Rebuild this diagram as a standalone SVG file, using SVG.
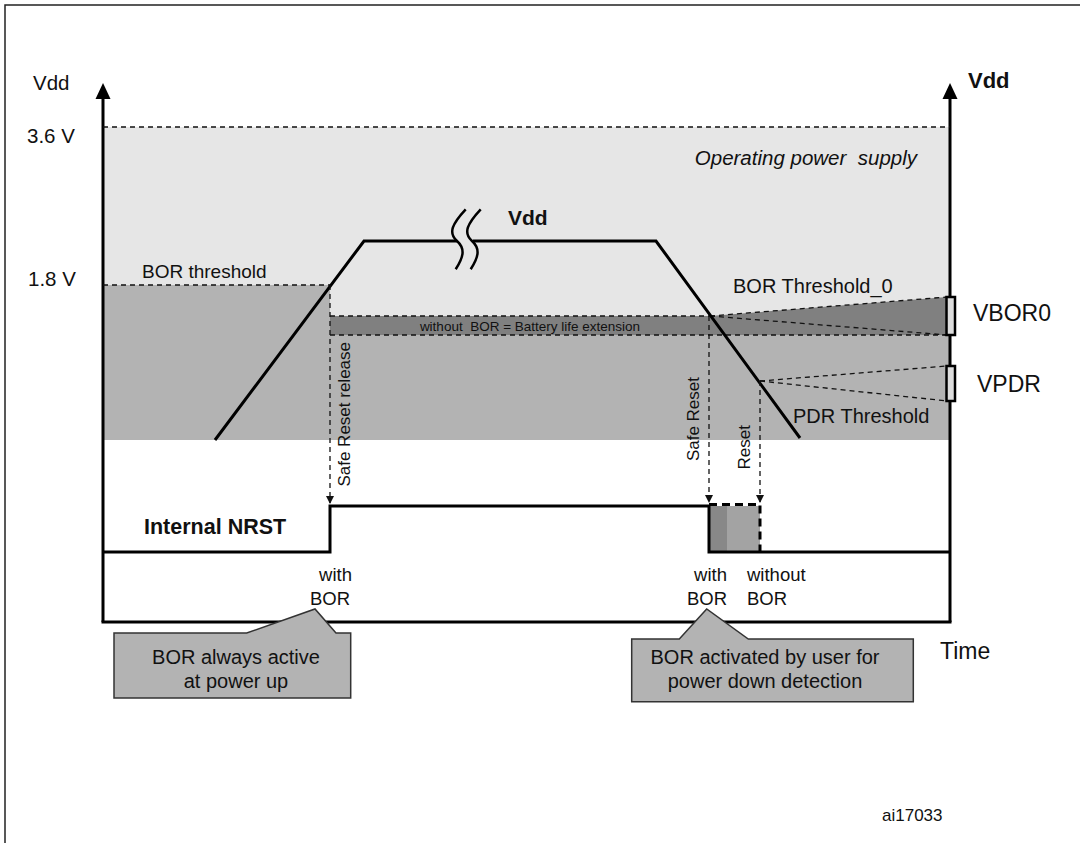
<svg xmlns="http://www.w3.org/2000/svg" width="1080" height="843" viewBox="0 0 1080 843">
<defs>
<style>
text{font-family:"Liberation Sans",Arial,sans-serif;fill:#111}
.dash{fill:none;stroke:#111;stroke-width:1.3;stroke-dasharray:5,4}
.thick{fill:none;stroke:#000;stroke-width:3;stroke-linejoin:miter}
.callout{fill:#b3b3b3;stroke:#333;stroke-width:1.5}
</style>
<marker id="ah" markerWidth="8" markerHeight="10" refX="7" refY="4" orient="auto" markerUnits="userSpaceOnUse" viewBox="0 0 8 8">
<path d="M0,0 L8,4 L0,8 Z" fill="#111"/>
</marker>
</defs>
<rect width="1080" height="843" fill="#fff"/>
<path d="M5,843 V5 H1080" fill="none" stroke="#222" stroke-width="1.5"/>

<g id="regions">
<rect x="103" y="127" width="847" height="313" fill="#e6e6e6"/>
<polygon points="103,285 330,285 330,335 950,335 950,440 103,440" fill="#b3b3b3"/>
<polygon points="330,316 710,316 947,297 947,335 330,335" fill="#808080"/>
</g>

<g id="axes">
<line x1="103" y1="97" x2="103" y2="622" stroke="#000" stroke-width="3"/>
<polygon points="103,83 95.5,99 110.5,99" fill="#000"/>
<line x1="950" y1="97" x2="950" y2="622" stroke="#000" stroke-width="3"/>
<polygon points="950,83 942.5,99 957.5,99" fill="#000"/>
<line x1="101.5" y1="622" x2="951.5" y2="622" stroke="#000" stroke-width="3"/>
<text x="33" y="90" font-size="20.5">Vdd</text>
<text x="968" y="88" font-size="22" font-weight="bold">Vdd</text>
<text x="27" y="143" font-size="20.5">3.6 V</text>
<text x="28" y="286" font-size="20.5">1.8 V</text>
<text x="940" y="659" font-size="23">Time</text>
</g>

<g id="thresholds">
<line class="dash" x1="103" y1="127" x2="950" y2="127"/>
<line class="dash" x1="103" y1="285" x2="330" y2="285"/>
<line class="dash" x1="330" y1="316" x2="710" y2="316"/>
<line class="dash" x1="330" y1="335" x2="947" y2="335"/>
<line class="dash" x1="710" y1="316" x2="947" y2="297"/>
<line class="dash" x1="710" y1="316" x2="947" y2="335"/>
<line class="dash" x1="760" y1="381" x2="947" y2="366"/>
<line class="dash" x1="760" y1="381" x2="947" y2="401"/>
<text x="142" y="278" font-size="19">BOR threshold</text>
<text x="733" y="293" font-size="20">BOR Threshold_0</text>
<text x="793" y="423" font-size="20">PDR Threshold</text>
<text x="530" y="331" font-size="13.5" text-anchor="middle">without&#160; BOR = Battery life extension</text>
<text x="917" y="165" font-size="20.5" font-style="italic" text-anchor="end">Operating power&#160; supply</text>
</g>

<g id="vbor0">
<rect x="946.5" y="297" width="8.5" height="38" fill="#ddd" stroke="#000" stroke-width="2.5"/>
<text x="973" y="321" font-size="23">VBOR0</text>
</g>
<g id="vpdr">
<rect x="946.5" y="366" width="8.5" height="35" fill="#ddd" stroke="#000" stroke-width="2.5"/>
<text x="977" y="392" font-size="23">VPDR</text>
</g>

<g id="vdd-curve">
<path class="thick" d="M215,440 L364,241 H457"/>
<path class="thick" d="M473,241 H656 L800,438"/>
<path d="M465.7,209.3 C452,224 448,233 457,241 C466,249 463,258 455.7,269.3" fill="none" stroke="#000" stroke-width="2.5"/>
<path d="M480.7,209.3 C467,224 463,233 472,241 C481,249 478,258 470.7,269.3" fill="none" stroke="#000" stroke-width="2.5"/>
<text x="508" y="225" font-size="21" font-weight="bold">Vdd</text>
</g>

<g id="nrst">
<rect x="709" y="506" width="18" height="46" fill="#888"/>
<rect x="727" y="506" width="33" height="46" fill="#a3a3a3"/>
<path class="thick" d="M103,552 H330 V506 H709 V552 H950"/>
<path d="M709,504.5 H760 V552" fill="none" stroke="#000" stroke-width="3" stroke-dasharray="8,5"/>
<text x="144" y="534" font-size="21.5" font-weight="bold">Internal NRST</text>
<text x="352" y="581" font-size="18.5" text-anchor="end">with</text>
<text x="350" y="605" font-size="18.5" text-anchor="end">BOR</text>
<text x="727" y="581" font-size="18.5" text-anchor="end">with</text>
<text x="727" y="605" font-size="18.5" text-anchor="end">BOR</text>
<text x="747" y="581" font-size="18.5">without</text>
<text x="747" y="605" font-size="18.5">BOR</text>
</g>

<g id="connectors">
<line class="dash" x1="330" y1="285" x2="330" y2="503" marker-end="url(#ah)"/>
<line class="dash" x1="709" y1="316" x2="709" y2="502" marker-end="url(#ah)"/>
<line class="dash" x1="760" y1="381" x2="760" y2="502" marker-end="url(#ah)"/>
<text transform="translate(350,342) rotate(-90)" font-size="17" text-anchor="end">Safe Reset release</text>
<text transform="translate(699,377) rotate(-90)" font-size="17" text-anchor="end">Safe Reset</text>
<text transform="translate(750,425) rotate(-90)" font-size="17" text-anchor="end">Reset</text>
</g>

<g id="callout1">
<path class="callout" d="M114,633 H246.7 L315,609 L336,633 H350.7 V698 H114 Z"/>
<text x="236" y="664" font-size="20" text-anchor="middle">BOR always active</text>
<text x="236" y="688" font-size="20" text-anchor="middle">at power up</text>
</g>
<g id="callout2">
<path class="callout" d="M631.7,639 H679.3 L706.7,609 L748.3,639 H913.3 V701.7 H631.7 Z"/>
<text x="765" y="664" font-size="20" text-anchor="middle">BOR activated by user for</text>
<text x="765" y="688" font-size="20" text-anchor="middle">power down detection</text>
</g>

<text x="882" y="821" font-size="17">ai17033</text>
</svg>
